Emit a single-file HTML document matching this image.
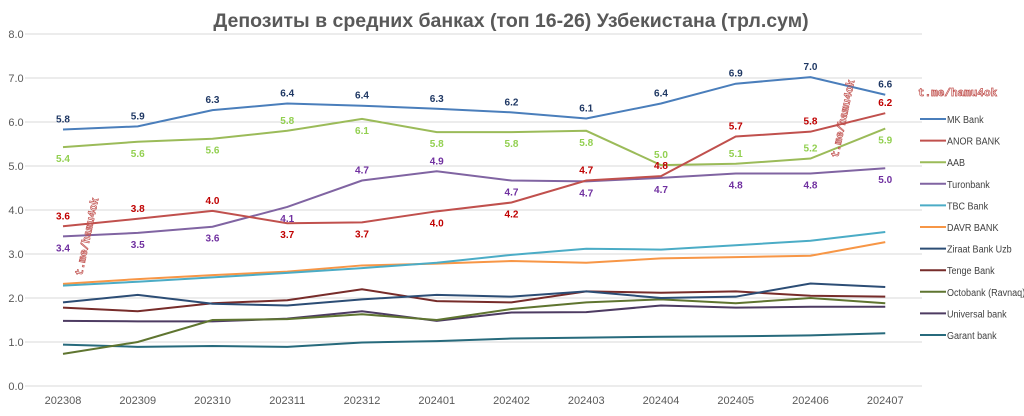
<!DOCTYPE html>
<html><head><meta charset="utf-8"><style>
body{margin:0;background:#fff}
svg{font-family:"Liberation Sans",sans-serif}
</style></head><body>
<svg id="c" width="1024" height="411" xmlns="http://www.w3.org/2000/svg">
<text x="511" y="27" text-anchor="middle" font-size="19.5" font-weight="bold" fill="#595959">Депозиты в средних банках (топ 16-26) Узбекистана (трл.сум)</text>
</svg>
<script>
const s=document.getElementById('c'),NS='http://www.w3.org/2000/svg';
function el(t,a,txt){const e=document.createElementNS(NS,t);for(const k in a)e.setAttribute(k,a[k]);if(txt!==undefined)e.textContent=txt;s.appendChild(e);return e;}
const X=i=>63+i*74.75, Y=v=>386-v*44;
for(let v=0;v<=8;v++){el('line',{x1:25,x2:922,y1:Y(v),y2:Y(v),stroke:'#d9d9d9','stroke-width':1});
el('text',{x:16,y:Y(v)+4,'text-anchor':'middle','font-size':11,fill:'#595959'},v.toFixed(1));}
const cats=['202308','202309','202310','202311','202312','202401','202402','202403','202404','202405','202406','202407'];
cats.forEach((c,i)=>el('text',{x:X(i),y:404,'text-anchor':'middle','font-size':11,fill:'#595959'},c));
const S=[
['MK Bank','#4a7ebb',[5.83,5.9,6.27,6.42,6.37,6.3,6.22,6.08,6.42,6.87,7.02,6.62],'#1f3864',-1],
['ANOR BANK','#c0504d',[3.63,3.8,3.98,3.7,3.72,3.97,4.17,4.67,4.77,5.67,5.78,6.2],'#c00000',-1],
['AAB','#9bbb59',[5.43,5.55,5.62,5.8,6.07,5.77,5.77,5.8,5.02,5.05,5.17,5.85],'#92d050',1],
['Turonbank','#8064a2',[3.4,3.48,3.62,4.07,4.67,4.88,4.67,4.65,4.73,4.83,4.83,4.95],'#7030a0',1],
['TBC Bank','#4bacc6',[2.28,2.37,2.47,2.57,2.68,2.8,2.98,3.12,3.1,3.2,3.3,3.5]],
['DAVR BANK','#f79646',[2.32,2.43,2.52,2.6,2.74,2.78,2.84,2.8,2.9,2.93,2.96,3.27]],
['Ziraat Bank Uzb','#2c4d75',[1.9,2.07,1.87,1.83,1.97,2.07,2.03,2.15,2.0,2.03,2.33,2.25]],
['Tenge Bank','#772c2a',[1.78,1.7,1.88,1.95,2.2,1.93,1.9,2.15,2.12,2.15,2.05,2.03]],
['Octobank (Ravnaq)','#5f7530',[0.73,1.0,1.5,1.52,1.63,1.5,1.75,1.9,1.97,1.88,2.0,1.88]],
['Universal bank','#4d3b62',[1.48,1.47,1.47,1.53,1.7,1.48,1.67,1.68,1.83,1.78,1.8,1.8]],
['Garant bank','#276a7c',[0.94,0.89,0.91,0.89,0.99,1.02,1.08,1.1,1.12,1.13,1.15,1.2]]];
const dirs=[
 [-1,-1,-1,-1,-1,-1,-1,-1,-1,-1,-1,-1],
 [-1,-1,-1,1,1,1,1,-1,-1,-1,-1,-1],
 [1,1,1,-1,1,1,1,1,-1,-1,-1,1],
 [1,1,1,1,-1,-1,1,1,1,1,1,1]];
S.slice().reverse().forEach(d=>{el('polyline',{points:d[2].map((v,i)=>X(i)+','+Y(v)).join(' '),fill:'none',stroke:d[1],'stroke-width':2});});
const shown=[[5.8,5.9,6.3,6.4,6.4,6.3,6.2,6.1,6.4,6.9,7.0,6.6],[3.6,3.8,4.0,3.7,3.7,4.0,4.2,4.7,4.8,5.7,5.8,6.2],[5.4,5.6,5.6,5.8,6.1,5.8,5.8,5.8,5.0,5.1,5.2,5.9],[3.4,3.5,3.6,4.1,4.7,4.9,4.7,4.7,4.7,4.8,4.8,5.0]];
for(let k=0;k<4;k++){const d=S[k];d[2].forEach((v,i)=>{const dir=dirs[k][i];
el('text',{x:X(i),y:dir<0?Y(v)-7:Y(v)+15,'text-anchor':'middle','font-size':10,'font-weight':'bold',fill:d[3]},shown[k][i].toFixed(1));});}
S.forEach((d,i)=>{const y=119+i*21.6;el('line',{x1:920,x2:946,y1:y,y2:y,stroke:d[1],'stroke-width':2});
el('text',{x:0,y:0,transform:`translate(947,${y+4}) scale(0.86,1)`,'font-size':10.5,fill:'#404040'},d[0]);});
const wm={'font-family':'Liberation Mono,monospace','font-weight':'bold','font-size':11,fill:'none',stroke:'#c0504d','stroke-width':0.7};
el('text',Object.assign({x:918,y:96},wm),'t.me/hamu4ok');
el('text',Object.assign({x:0,y:0,transform:'translate(82,276) rotate(-78)'},wm),'t.me/hamu4ok');
el('text',Object.assign({x:0,y:0,transform:'translate(838,158) rotate(-78)'},wm),'t.me/hamu4ok');
</script>
</body></html>
